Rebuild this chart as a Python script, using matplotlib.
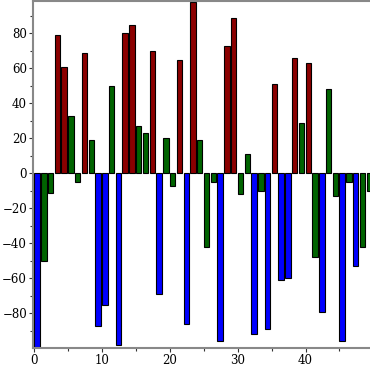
import matplotlib
matplotlib.use("Agg")

import numpy as np
import matplotlib.pyplot as plt
from matplotlib.ticker import MultipleLocator

values = [-99, -50, -11, 79, 61, 33, -5, 69, 19, -87,
          -75, 50, -98, 80, 85, 27, 23, 70, -69, 20,
          -7, 65, -86, 98, 19, -42, -5, -96, 73, 89,
          -12, 11, -92, -10, -89, 51, -61, -60, 66, 29,
          63, -48, -79, 48, -13, -96, -5, -53, -42, -10]

positions = np.arange(len(values))


def bar_color(v):
    if v > 50:
        return "#8b0000"
    if v < -50:
        return "#0000ff"
    return "#006400"


colors = [bar_color(v) for v in values]

plt.rcParams["font.family"] = "DejaVu Serif"

fig = plt.figure(figsize=(3.7, 3.7), dpi=100)
ax = fig.add_axes([0.09, 0.06, 0.91, 0.938])

ax.bar(positions, values, width=0.8, align="edge", color=colors,
       edgecolor="black", linewidth=0.8)

ax.set_xlim(-0.15, 49.5)
ax.set_ylim(-99.6, 98.7)

ax.xaxis.set_major_locator(MultipleLocator(10))
ax.xaxis.set_minor_locator(MultipleLocator(5))
ax.yaxis.set_major_locator(MultipleLocator(20))
ax.yaxis.set_minor_locator(MultipleLocator(10))

ax.tick_params(axis="both", which="major", length=3, width=0.8,
               labelsize=8.5, color="#333333", pad=1.5)
ax.tick_params(axis="both", which="minor", length=2, width=0.8,
               color="#333333")

for side in ["left", "bottom", "top"]:
    ax.spines[side].set_color("#888888")
    ax.spines[side].set_linewidth(1.5)
ax.spines["right"].set_visible(False)

plt.savefig("out.png", dpi=100)
plt.close(fig)
